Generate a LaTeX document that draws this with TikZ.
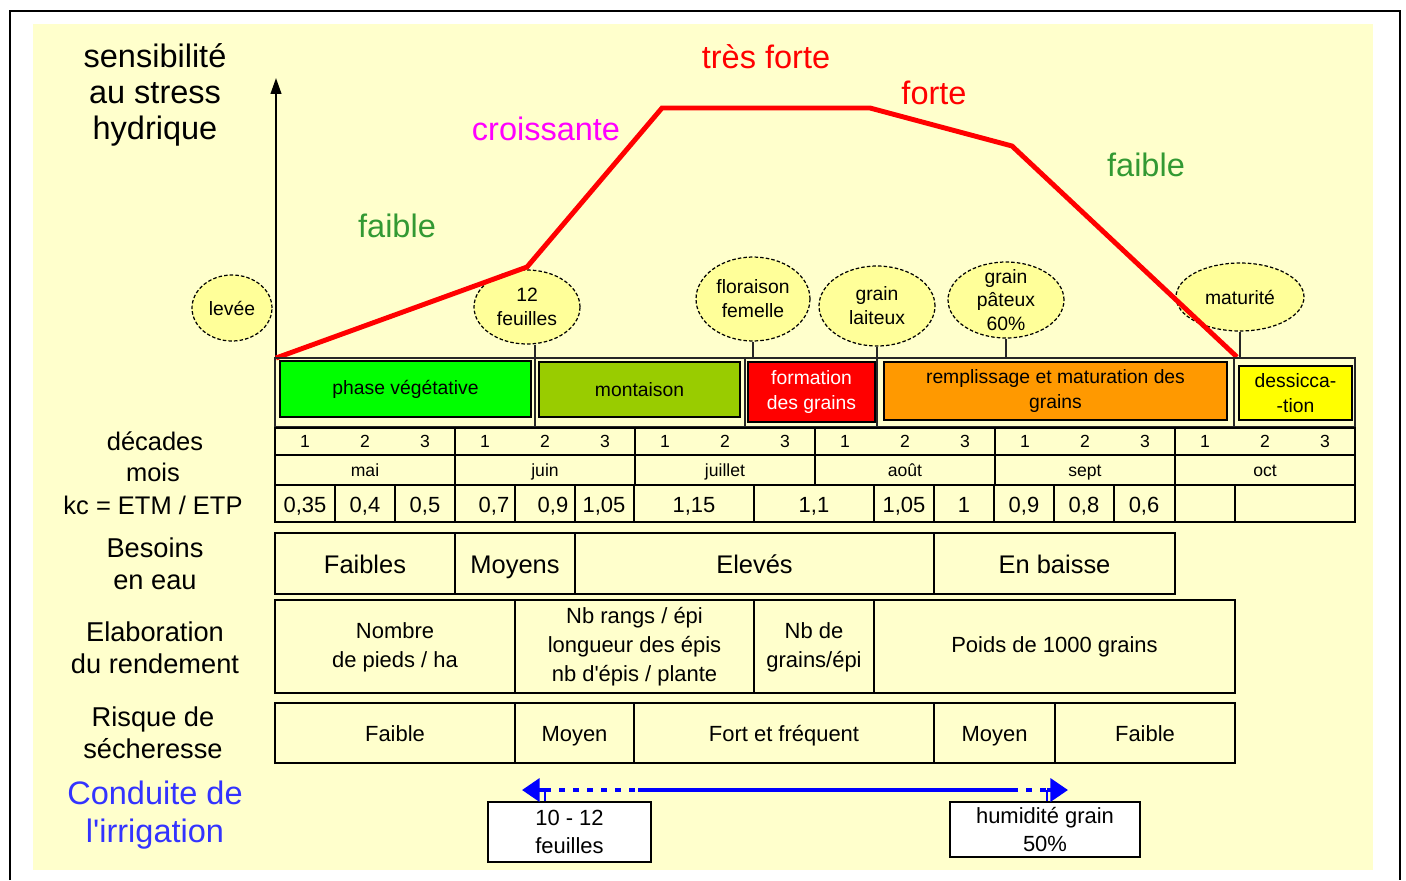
\documentclass[tikz,border=0pt]{standalone}
\usepackage{fontspec}
\setmainfont{Liberation Sans}
\usetikzlibrary{positioning, arrows.meta, shapes.geometric}

\definecolor{fondj}{HTML}{FFFFCC}
\definecolor{bulj}{HTML}{FFFF99}
\definecolor{vertv}{HTML}{00FF00}
\definecolor{vertm}{HTML}{99CC00}
\definecolor{orangr}{HTML}{FF9900}
\definecolor{jaune}{HTML}{FFFF00}
\definecolor{rouge}{HTML}{FF0000}
\definecolor{vertt}{HTML}{339933}
\definecolor{magen}{HTML}{FF00FF}
\definecolor{bleut}{HTML}{3333FF}
\definecolor{bleu}{HTML}{0000FF}

\begin{document}
\begin{tikzpicture}[
    x=0.02cm, y=-0.02cm,
    titre/.style={
        font=\fontsize{18.5}{20.5}\selectfont,
        align=center,
        inner sep=0pt
    },
    gauche/.style={
        font=\fontsize{15.5}{18.2}\selectfont,
        align=center,
        inner sep=0pt
    },
    cell/.style={
        draw=black,
        line width=1.1pt
    },
    fin/.style={
        draw=black!85,
        line width=0.6pt
    },
    phase/.style={
        rectangle,
        draw=black,
        line width=1.6pt,
        inner sep=0pt,
        align=center,
        font=\fontsize{11}{14}\selectfont
    },
    bulle/.style={
        ellipse,
        draw=black,
        dash pattern=on 2pt off 1.2pt,
        line width=0.7pt,
        fill=bulj,
        inner sep=0pt
    },
    btxt/.style={
        align=center,
        inner sep=0pt,
        font=\fontsize{11}{13.6}\selectfont
    },
    ligne/.style={text height=1.6ex, text depth=0.3ex},
    grand/.style={ligne, font=\fontsize{14.5}{17}\selectfont},
    moyen/.style={font=\fontsize{12.5}{16.5}\selectfont, align=center},
    moy1/.style={ligne, font=\fontsize{12.5}{16.5}\selectfont},
    petit/.style={ligne, font=\fontsize{10}{12}\selectfont},
    courbe/.style={draw=rouge, line width=2.8pt, line join=miter},
    irr/.style={draw=bleu, line width=2.2pt},
    boite/.style={
        rectangle,
        draw=black,
        line width=1.3pt,
        fill=white,
        inner sep=0pt,
        align=center,
        font=\fontsize{12.5}{16}\selectfont
    }
]
\useasboundingbox (0,0) rectangle (1406,880);

% ===== cadre et fond =====
\fill[fondj] (33,24) rectangle (1373,870);
\draw[line width=1.4pt] (10,880) -- (10,11) -- (1400,11) -- (1400,880);

% ===== titres =====
\node[titre] (sens) at (155,95) {sensibilité\\au stress\\hydrique};
\node[titre, rouge] (tf) at (766,57) {très forte};
\node[titre, rouge] (fo) at (934,93) {forte};
\node[titre, magen] (cr) at (546,129) {croissante};
\node[titre, vertt] (fa1) at (397,226) {faible};
\node[titre, vertt] (fa2) at (1146,165) {faible};

% ===== stades (bulles) =====
\node[bulle, minimum width=1.6cm, minimum height=1.32cm] (e1) at (232,308) {};
\node[bulle, minimum width=2.12cm, minimum height=1.48cm] (e2) at (527,307) {};
\node[bulle, minimum width=2.28cm, minimum height=1.68cm] (e3) at (753,299) {};
\node[bulle, minimum width=2.32cm, minimum height=1.6cm] (e4) at (877,306) {};
\node[bulle, minimum width=2.32cm, minimum height=1.52cm] (e5) at (1006,300) {};
\node[bulle, minimum width=2.56cm, minimum height=1.36cm] (e6) at (1240,297) {};
\node[btxt] (e1t) at (e1) {levée};
\node[btxt] (e2t) at (e2) {12\\feuilles};
\node[btxt] (e3t) at (e3) {floraison\\femelle};
\node[btxt] (e4t) at (e4) {grain\\laiteux};
\node[btxt] (e5t) at (e5) {grain\\pâteux\\60\%};
\node[btxt] (e6t) at (e6) {maturité};

% ===== axe et courbe =====
\coordinate (o) at (276,358);
\coordinate (ytop) at (276,78);
\coordinate (top) at (0,358);
\coordinate (dv1) at (535,358);
\draw[line width=1.2pt, -{Triangle[length=9pt, width=6pt]}] (o) -- (ytop);
\draw[fin] (dv1 |- e2.south) -- (dv1);
\foreach \e in {e3, e4, e5, e6} {
    \draw[fin] (\e.south) -- (\e.south |- top);
}
\coordinate (c1) at (527,267);
\coordinate (c2) at (662,108);
\coordinate (c3) at (870,108);
\coordinate (c4) at (1012,146);
\coordinate (c5) at (1237,357);
\draw[courbe] (o) -- (c1) -- (c2) -- (c3) -- (c4) -- (c5);

% ===== phases =====
\draw[fin] (275,358) rectangle (1355,427);
\foreach \x in {535, 745, 877, 1234} {
    \draw[fin] (\x,358) -- (\x,427);
}
\node[phase, fill=vertv, minimum width=5.02cm, minimum height=1.12cm] (pv) at (405.5,389) {phase végétative};
\node[phase, fill=vertm, minimum width=4.02cm, minimum height=1.1cm] (mt) at (639.5,389.5) {montaison};
\node[phase, fill=rouge, text=white, minimum width=2.54cm, minimum height=1.2cm] (fg) at (811.5,392) {formation\\des grains};
\node[phase, fill=orangr, minimum width=6.86cm, minimum height=1.16cm] (rm) at (1055.5,391) {remplissage et maturation des\\grains};
\node[phase, fill=jaune, minimum width=2.26cm, minimum height=1.08cm] (ds) at (1295.5,393) {dessicca-\\-tion};

% ===== decades, mois, kc =====
\draw[cell] (275,428) rectangle (1355,522);
\draw[cell] (275,455) -- (1355,455);
\draw[cell] (275,485) -- (1355,485);
\foreach \mois [count=\m from 0] in {mai, juin, juillet, août, sept, oct} {
    \draw[cell] ({275+\m*180},428) -- ({275+\m*180},485);
    \node[petit] (m\m) at ({365+\m*180},470) {\mois};
    \foreach \d in {1,2,3} {
        \node[petit] (d\m\d) at ({275+\m*180+(\d-0.5)*60},441) {\d};
    }
}
\foreach \x in {335, 395, 455, 515, 575, 634, 754, 874, 934, 994, 1054, 1114, 1175, 1235} {
    \draw[cell] (\x,485) -- (\x,522);
}
\foreach \x/\v [count=\i] in {305/{0,35}, 365/{0,4}, 425/{0,5}, 494/{0,7}, 553/{0,9}, 604/{1,05},
    694/{1,15}, 814/{1,1}, 904/{1,05}, 964/{1}, 1024/{0,9}, 1084/{0,8}, 1144/{0,6}} {
    \node[moy1] (kc\i) at (\x,506) {\v};
}

% ===== etiquettes a gauche =====
\node[gauche, font=\fontsize{14.5}{17}\selectfont] (dec) at (155,441) {décades};
\node[gauche, font=\fontsize{14.5}{17}\selectfont] (moi) at (153,472) {mois};
\node[gauche, font=\fontsize{14.5}{17}\selectfont] (kc) at (153,505) {kc = ETM / ETP};
\node[gauche] (bes) at (155,564) {Besoins\\en eau};
\node[gauche] (ela) at (155,648) {Elaboration\\du rendement};
\node[gauche] (ris) at (153,733) {Risque de\\sécheresse};
\node[titre, bleut, font=\fontsize{18.5}{22}\selectfont] (cond) at (155,815) {Conduite de\\l\textquotesingle irrigation};

% ===== besoins en eau =====
\foreach \a/\b/\txt [count=\i] in {275/455/Faibles, 455/575/Moyens, 575/934/Elevés, 934/1175/En baisse} {
    \draw[cell] (\a,533) rectangle (\b,594);
    \node[grand] (be\i) at ({(\a+\b)/2},567) {\txt};
}

% ===== elaboration du rendement =====
\foreach \a/\b/\txt [count=\i] in {275/515/{Nombre\\de pieds / ha},
    515/754/{Nb rangs / épi\\longueur des épis\\nb d\textquotesingle épis / plante},
    754/874/{Nb de\\grains/épi}, 874/1235/{Poids de 1000 grains}} {
    \draw[cell] (\a,600) rectangle (\b,693);
    \node[moyen] (el\i) at ({(\a+\b)/2},647) {\txt};
}

% ===== risque de secheresse =====
\foreach \a/\b/\txt [count=\i] in {275/515/Faible, 515/634/Moyen, 634/934/Fort et fréquent,
    934/1055/Moyen, 1055/1235/Faible} {
    \draw[cell] (\a,703) rectangle (\b,763);
    \node[moy1] (ri\i) at ({(\a+\b)/2},735) {\txt};
}

% ===== irrigation =====
\node[boite, minimum width=3.26cm, minimum height=1.2cm] (irr1) at (569.5,832) {10 - 12\\feuilles};
\node[boite, minimum width=3.8cm, minimum height=1.1cm] (irr2) at (1045,829.5) {humidité grain\\50\%};
\coordinate (ig) at (522,790);
\coordinate (ig1) at (545,790);
\coordinate (ig2) at (638,790);
\coordinate (id2) at (1012,790);
\coordinate (id1) at (1047,790);
\coordinate (id) at (1068,790);
\draw[irr, -{Triangle[length=10pt, width=13pt]}] (ig1) -- (ig);
\draw[irr, -{Triangle[length=10pt, width=13pt]}] (id1) -- (id);
\draw[irr, dash pattern=on 3.5pt off 4.5pt] (ig1) -- (ig2);
\draw[irr] (ig2) -- (id2);
\draw[irr, dash pattern=on 3.5pt off 4.5pt] (id2) -- (id1);
\draw[irr, line width=1.2pt] (ig1) -- (ig1 |- irr1.north);
\draw[irr, line width=1.2pt] (id1) -- (id1 |- irr2.north);

\end{tikzpicture}
\end{document}
